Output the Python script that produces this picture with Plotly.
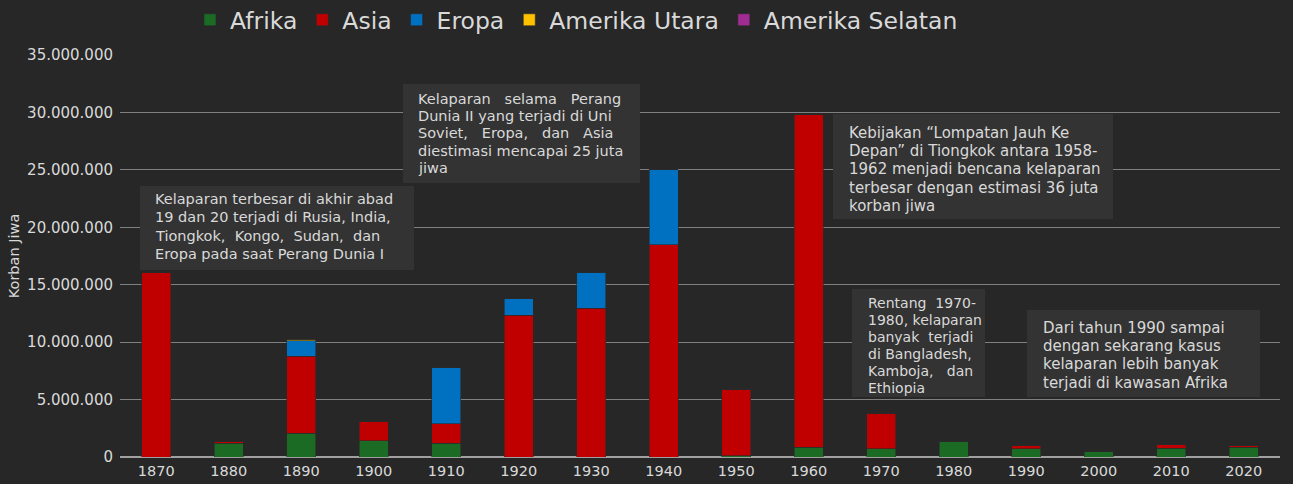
import plotly.graph_objects as go

years = ["1870", "1880", "1890", "1900", "1910", "1920", "1930", "1940",
         "1950", "1960", "1970", "1980", "1990", "2000", "2010", "2020"]
afrika = [0, 1200000, 2060000, 1420000, 1190000, 0, 0, 0,
          100000, 870000, 700000, 1390000, 700000, 520000, 780000, 870000]
asia = [16100000, 170000, 6730000, 1690000, 1710000, 12360000, 12970000, 18500000,
        5800000, 28950000, 3070000, 0, 340000, 0, 350000, 170000]
eropa = [0, 0, 1310000, 0, 4880000, 1400000, 3100000, 6500000,
         0, 0, 0, 0, 0, 0, 0, 0]
amerika_utara = [0, 0, 170000, 0, 0, 0, 0, 0, 0, 0, 0, 0, 0, 0, 0, 0]
amerika_selatan = [0] * 16

series = [
    ("Afrika", afrika, "#1b6b25"),
    ("Asia", asia, "#c00000"),
    ("Eropa", eropa, "#0070c0"),
    ("Amerika Utara", amerika_utara, "#ffc000"),
    ("Amerika Selatan", amerika_selatan, "#a02b93"),
]

BG = "#272727"
BOX = "#333333"
TXT = "#d9d9d9"
FONT = "DejaVu Sans"

W, H = 1293, 484
L, R, T, B = 120, 1280, 55, 457


def px(x):
    return (x - L) / (R - L)


def py(y):
    return (B - y) / (B - T)


fig = go.Figure()
for name, vals, col in series:
    fig.add_trace(go.Bar(x=years, y=vals, name=name,
                         marker=dict(color=col, line=dict(color="#2a2a2a", width=0.6))))

# (box x0, x1, y0, y1, text left, first line centre, line step, font size, lines)
boxes = [
    (140, 414, 186, 270, 153, 199, 18.3, 14.5,
     ["Kelaparan terbesar di akhir abad", "19 dan 20 terjadi di Rusia, India,",
      "Tiongkok,  Kongo,  Sudan,  dan", "Eropa pada saat Perang Dunia I"]),
    (403, 640, 84, 183, 416, 99, 17.2, 14.5,
     ["Kelaparan   selama   Perang", "Dunia II yang terjadi di Uni",
      "Soviet,   Eropa,   dan   Asia", "diestimasi mencapai 25 juta", "jiwa"]),
    (833, 1113, 114, 219, 847, 133, 18.2, 15,
     ["Kebijakan “Lompatan Jauh Ke", "Depan” di Tiongkok antara 1958-",
      "1962 menjadi bencana kelaparan", "terbesar dengan estimasi 36 juta",
      "korban jiwa"]),
    (852, 985, 289, 397, 866, 303, 16.9, 14,
     ["Rentang  1970-", "1980, kelaparan", "banyak  terjadi", "di Bangladesh,",
      "Kamboja,   dan", "Ethiopia"]),
    (1027, 1260, 310, 397, 1041, 328, 18.2, 15,
     ["Dari tahun 1990 sampai", "dengan sekarang kasus", "kelaparan lebih banyak",
      "terjadi di kawasan Afrika"]),
]

shapes = []
annotations = []
for x0, x1, y0, y1, tx, ty, step, fs, lines in boxes:
    shapes.append(dict(type="rect", xref="paper", yref="paper",
                       x0=px(x0), x1=px(x1), y0=py(y1), y1=py(y0),
                       fillcolor=BOX, line=dict(width=0), layer="above"))
    for i, line in enumerate(lines):
        annotations.append(dict(xref="paper", yref="paper", x=px(tx), y=py(ty + i * step),
                                xanchor="left", yanchor="middle", align="left",
                                showarrow=False, text=line,
                                font=dict(family=FONT, size=fs, color=TXT)))

fig.update_layout(
    width=W, height=H,
    margin=dict(l=L, r=W - R, t=T, b=H - B, pad=0, autoexpand=False),
    barmode="stack", bargap=0.6,
    paper_bgcolor=BG, plot_bgcolor=BG,
    separators=",.",
    font=dict(family=FONT, color=TXT, size=14),
    legend=dict(orientation="h", x=px(190), y=py(20), xanchor="left", yanchor="middle",
                font=dict(size=23.5, color=TXT), bgcolor="rgba(0,0,0,0)",
                itemclick=False, traceorder="normal"),
    shapes=shapes,
    annotations=annotations,
    xaxis=dict(type="category", showgrid=False, showline=False, zeroline=False,
               automargin=False,
               tickfont=dict(size=14.5, color=TXT), ticks="outside", ticklen=1,
               tickcolor=BG),
    yaxis=dict(range=[0, 35000000], dtick=5000000, tickformat=",d", automargin=False,
               showgrid=True, gridcolor="#7f7f7f", gridwidth=1,
               zeroline=True, zerolinecolor="#a0a0a0", zerolinewidth=1.5,
               showline=False, ticks="outside", ticklen=3, tickcolor=BG,
               tickfont=dict(size=15, color=TXT),
               title=dict(text="Korban Jiwa", font=dict(size=14.5, color=TXT), standoff=4)),
    showlegend=True,
)

post = ("document.body.style.margin='0';document.body.style.padding='0';"
        "document.body.style.overflow='hidden';document.body.style.background='#272727';"
        "var gd=document.getElementById('{plot_id}');"
        "Plotly.relayout(gd,{width:1293,height:484});")

fig.write_html("out.html", post_script=post, config={"displayModeBar": False})
